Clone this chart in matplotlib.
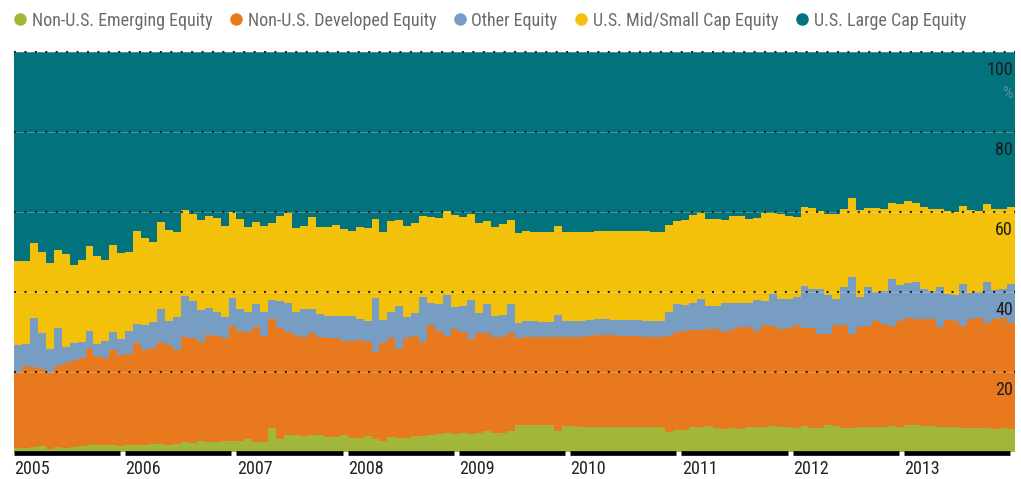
import matplotlib
matplotlib.use("Agg")
import matplotlib.pyplot as plt
from matplotlib import font_manager
from matplotlib.lines import Line2D
import numpy as np

# narrow face if one is installed, otherwise a plain sans at a smaller size
installed = {f.name for f in font_manager.fontManager.ttflist}
narrow = [f for f in ["Liberation Sans Narrow", "Roboto Condensed", "DejaVu Sans Condensed"] if f in installed]
if narrow:
    plt.rcParams['font.family'] = [narrow[0], 'DejaVu Sans']
    fs = 13
else:
    plt.rcParams['font.family'] = ['Roboto', 'DejaVu Sans']
    fs = 11.3

# series, bottom to top
names = ["Non-U.S. Emerging Equity", "Non-U.S. Developed Equity", "Other Equity",
         "U.S. Mid/Small Cap Equity", "U.S. Large Cap Equity"]
colors = ["#A2B63A", "#E8791E", "#789DC3", "#F3C109", "#02727D"]

# share of equity (%) per period, 2005 .. end of 2013
emerging = [0.9, 1.0, 1.2, 1.4, 0.7, 1.3, 1.0, 1.3, 1.5, 1.8, 1.6, 1.7, 1.7, 1.5, 1.7, 1.8, 1.7, 1.9, 2.0, 1.8,
            2.0, 2.4, 2.3, 2.6, 2.4, 2.5, 2.6, 2.6, 2.7, 3.2, 2.5, 2.5, 5.9, 3.3, 4.2, 4.1, 3.9, 4.2, 4.3, 3.7,
            3.7, 4.3, 3.5, 3.4, 3.9, 3.1, 2.7, 3.7, 3.5, 3.5, 3.9, 3.9, 4.1, 4.5, 4.6, 4.5, 4.6, 4.5, 4.6, 5.1,
            4.8, 4.6, 5.1, 6.7, 6.8, 6.8, 6.8, 6.7, 5.2, 6.5, 6.5, 6.2, 6.2, 6.2, 6.2, 6.2, 6.2, 6.2, 6.2, 6.2,
            6.2, 6.2, 5.0, 5.5, 5.5, 6.1, 6.1, 6.4, 6.0, 5.7, 6.0, 5.8, 6.2, 6.2, 6.2, 6.4, 6.1, 6.1, 6.0, 6.4,
            6.0, 6.0, 6.7, 6.4, 5.9, 5.9, 6.1, 6.2, 6.1, 6.1, 6.4, 6.1, 6.6, 6.6, 6.4, 6.5, 6.1, 6.2, 6.2, 6.0,
            6.0, 5.9, 5.9, 5.8, 5.9, 5.7]
developed = [19.0, 20.4, 20.0, 19.4, 18.9, 20.1, 21.3, 21.5, 21.9, 24.0, 22.3, 21.8, 23.7, 22.6, 22.8, 25.4,
             23.8, 24.0, 25.5, 25.0, 23.4, 26.4, 26.1, 24.9, 26.8, 26.5, 25.8, 28.9, 27.6, 26.7, 28.6, 26.4,
             27.3, 27.6, 25.7, 25.2, 24.9, 25.6, 24.4, 24.8, 24.7, 23.5, 24.3, 24.5, 23.5, 21.9, 24.5, 24.7,
             22.2, 25.0, 25.0, 23.6, 27.7, 25.7, 24.4, 26.3, 25.3, 23.7, 25.2, 24.5, 24.0, 24.1, 24.6, 21.8,
             22.0, 22.0, 21.9, 21.9, 23.5, 22.2, 22.2, 22.6, 22.7, 22.9, 23.0, 22.9, 22.8, 22.8, 22.8, 22.6,
             22.6, 22.6, 23.9, 24.5, 24.7, 24.3, 24.4, 24.4, 24.8, 24.2, 24.6, 25.4, 25.0, 24.0, 25.5, 25.0,
             24.5, 24.8, 25.8, 24.5, 24.9, 23.5, 22.7, 25.2, 25.7, 23.5, 25.0, 25.3, 26.5, 25.8, 25.1, 26.5,
             26.9, 26.5, 26.7, 26.8, 25.1, 26.7, 26.4, 25.4, 27.1, 27.6, 26.2, 27.5, 27.6, 26.4]
other = [6.8, 5.5, 12.2, 8.8, 6.1, 9.5, 3.9, 4.5, 4.1, 4.4, 3.0, 4.3, 4.5, 4.1, 5.8, 4.8, 6.3, 6.5, 8.2, 5.9,
         8.2, 10.2, 9.3, 7.9, 6.7, 6.0, 5.4, 7.0, 5.4, 5.0, 5.9, 6.0, 4.8, 6.8, 7.4, 5.6, 6.9, 6.0, 5.8, 5.5,
         5.6, 6.2, 6.2, 5.2, 5.3, 13.4, 5.8, 6.6, 10.7, 5.1, 5.7, 11.2, 5.5, 6.7, 10.3, 5.3, 6.5, 9.7, 4.9, 7.3,
         5.2, 5.5, 7.3, 3.8, 3.8, 3.8, 3.8, 3.9, 5.5, 4.0, 4.0, 3.9, 4.0, 4.0, 3.9, 3.9, 3.9, 3.9, 3.9, 3.9,
         3.9, 3.8, 6.1, 7.0, 6.6, 6.8, 7.6, 5.7, 5.6, 7.3, 6.7, 5.9, 6.1, 7.7, 6.0, 8.0, 7.7, 7.3, 6.8, 10.5,
         9.8, 11.2, 9.7, 6.6, 9.5, 14.4, 7.6, 9.6, 7.3, 8.2, 11.7, 9.1, 8.8, 9.3, 7.5, 6.9, 10.0, 6.5, 6.6, 10.5,
         6.5, 6.4, 10.3, 7.1, 7.2, 9.8]
mid_small = [21.1, 20.9, 18.7, 20.4, 21.4, 19.5, 23.2, 19.4, 20.5, 21.2, 22.1, 20.1, 21.9, 21.5, 19.6, 23.2,
             21.6, 20.1, 21.8, 22.7, 21.4, 21.5, 21.7, 22.6, 23.1, 23.5, 22.7, 21.4, 22.4, 21.2, 20.4, 21.6,
             19.3, 21.3, 22.3, 21.1, 20.8, 22.9, 21.8, 22.3, 22.8, 21.6, 21.3, 23.0, 23.3, 19.8, 22.0, 22.8,
             21.5, 22.9, 22.5, 20.2, 21.5, 21.6, 21.0, 23.2, 22.4, 21.5, 22.4, 20.8, 22.1, 22.7, 21.0, 22.5,
             22.6, 22.4, 22.4, 22.4, 22.3, 22.3, 22.3, 22.1, 22.1, 22.2, 22.0, 22.2, 22.4, 22.4, 22.4, 22.4,
             22.2, 22.4, 21.7, 20.7, 21.1, 21.9, 21.5, 21.6, 21.8, 20.7, 21.6, 21.8, 20.9, 20.6, 22.0, 20.4,
             21.1, 20.7, 20.1, 19.8, 20.3, 19.5, 20.4, 21.3, 19.6, 19.7, 21.8, 19.9, 21.0, 20.6, 19.0, 20.2,
             20.4, 19.7, 20.6, 20.4, 19.5, 20.8, 20.8, 19.5, 20.8, 20.3, 19.5, 20.2, 20.0, 19.2]
large_cap = [52.2, 52.2, 47.9, 50.0, 52.9, 49.6, 50.6, 53.3, 52.0, 48.6, 51.0, 52.1, 48.2, 50.3, 50.1, 44.8,
             46.6, 47.5, 42.5, 44.6, 45.0, 39.5, 40.6, 42.0, 41.0, 41.5, 43.5, 40.1, 41.9, 43.9, 42.6, 43.5,
             42.7, 41.0, 40.4, 44.0, 43.5, 41.3, 43.7, 43.7, 43.2, 44.4, 44.7, 43.9, 44.0, 41.8, 45.0, 42.2,
             42.1, 43.5, 42.9, 41.1, 41.2, 41.5, 39.7, 40.7, 41.2, 40.6, 42.9, 42.3, 43.9, 43.1, 42.0, 45.2,
             44.8, 45.0, 45.1, 45.1, 43.5, 45.0, 45.0, 45.2, 45.0, 44.7, 44.9, 44.8, 44.7, 44.7, 44.7, 44.9,
             45.1, 45.0, 43.3, 42.3, 42.1, 40.9, 40.4, 41.9, 41.9, 42.1, 41.1, 41.1, 41.9, 41.5, 40.3, 40.2,
             40.6, 41.1, 41.3, 38.8, 39.0, 39.8, 40.5, 40.5, 39.3, 36.5, 39.6, 39.0, 39.2, 39.3, 37.8, 38.2,
             37.3, 37.9, 38.8, 39.4, 39.3, 39.8, 40.0, 38.6, 39.6, 39.8, 38.1, 39.4, 39.3, 38.9]

years = list(range(2005, 2014))
y_ticks = [20, 40, 60, 80, 100]

n = len(emerging)
edges = np.linspace(2005, 2014, n + 1)

fig = plt.figure(figsize=(10.21, 4.79), dpi=100)
ax = fig.add_axes([14 / 1021, (479 - 451.7) / 479, 1001 / 1021, 400 / 479])

base = np.zeros(n)
for vals, c in zip([emerging, developed, other, mid_small, large_cap], colors):
    vals = np.asarray(vals, dtype=float)
    ax.stairs(base + vals, edges, baseline=base.copy(), fill=True, color=c, lw=0.4)
    base = base + vals

ax.set_xlim(2005, 2014)
ax.set_ylim(0, 100)
for s in ax.spines.values():
    s.set_visible(False)
ax.set_xticks([])
ax.set_yticks([])

# dotted gridlines + labels inside on the right
ytr = ax.get_yaxis_transform()
for v in y_ticks:
    ax.axhline(v, color="white", alpha=0.3, lw=0.6, zorder=3, clip_on=False)
    ax.axhline(v, color="#262626", lw=1.5, ls=(0, (1, 4)), zorder=4, clip_on=False)
    ax.text(0.998, v - 2.4, str(v), transform=ytr, ha="right", va="top",
            fontsize=fs, color="#1c1c1c", zorder=5)
ax.text(0.998, 89.6, "%", transform=ytr, ha="right", va="center",
        fontsize=fs - 1, color="#5f8c92", zorder=5)

# year bar and labels
for yr in years:
    ax.hlines(-0.4, yr, yr + 0.955, color="black", lw=3.4, capstyle="butt", clip_on=False)
    ax.text(yr + 0.003, -4.2, str(yr), ha="left", va="center", fontsize=fs,
            color="#222222", clip_on=False)

handles = [Line2D([], [], marker="o", ls="", markersize=8, color=c) for c in colors]
fig.legend(handles, names, loc="center left", bbox_to_anchor=(0.0145, 0.957), ncol=5,
           frameon=False, fontsize=fs, handlelength=0.6, handletextpad=0.35,
           columnspacing=1.0, labelcolor="#6b6b6b", borderaxespad=0, borderpad=0)

fig.savefig("out.png", dpi=100)
